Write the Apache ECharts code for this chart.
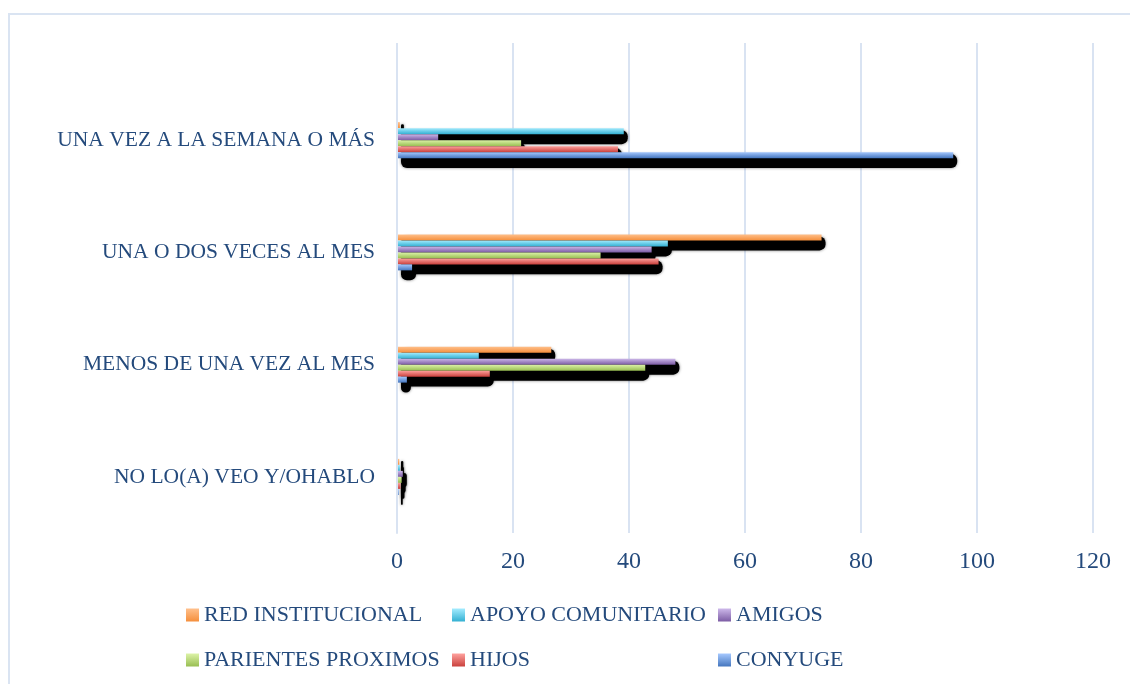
<!DOCTYPE html>
<html>
<head>
<meta charset="utf-8">
<script src="https://cdn.jsdelivr.net/npm/echarts@6/dist/echarts.min.js"></script>
<style>
  html, body { margin: 0; padding: 0; background: #ffffff; overflow: hidden; }
  #frame { position: absolute; left: 8px; top: 13px; width: 1400px; height: 900px;
           border-left: 2px solid #DAE4F2; border-top: 2px solid #DAE4F2; }
  #chart { position: absolute; left: 0; top: 0; width: 1130px; height: 684px; }
</style>
</head>
<body>
<div id="frame"></div>
<div id="chart"></div>
<script>
// Frequency categories, listed from the bottom of the axis upwards
const categories = [
  'NO LO(A) VEO Y/OHABLO',
  'MENOS DE UNA VEZ AL MES',
  'UNA O DOS VECES AL MES',
  'UNA VEZ A LA SEMANA O MÁS'
];

// Percentages per support network, same order as categories
const redInstitucional   = [0.4, 26.6, 73.2, 0.5];
const apoyoComunitario   = [0.5, 14.1, 46.7, 39.1];
const amigos             = [1.0, 48.0, 43.9, 7.1];
const parientesProximos  = [0.8, 42.8, 35.1, 21.4];
const hijos              = [0.6, 16.0, 45.1, 38.1];
const conyuge            = [0.3, 1.7, 2.6, 95.9];

const xTicks = { min: 0, max: 120, interval: 20 };

const seriesNames = ['RED INSTITUCIONAL', 'APOYO COMUNITARIO', 'AMIGOS',
                     'PARIENTES PROXIMOS', 'HIJOS', 'CONYUGE'];
const seriesValues = [redInstitucional, apoyoComunitario, amigos,
                      parientesProximos, hijos, conyuge];
// light top edge -> darker bottom edge for each bar fill
const seriesShades = [
  ['#FFC08C', '#F58F3C'],
  ['#A4ECFF', '#33B0D2'],
  ['#CDB8EA', '#7C5CA4'],
  ['#DDF3A8', '#98BE52'],
  ['#FFA29E', '#C9413D'],
  ['#A6C9FF', '#4576BE']
];

const textColor = '#244A7C';
const fontFamily = '"Liberation Serif", "DejaVu Serif", serif';
const gridColor = '#D9E3F2';

// plot area, bar thickness and the drop-shadow offset/size of the bars
const plot = { left: 397, right: 37, top: 84, bottom: 151 };
const barThickness = 6;
const dropThickness = 14;
const dropX = 4, dropY = 6;

function shade(pair) {
  return new echarts.graphic.LinearGradient(0, 0, 0, 1, [
    { offset: 0, color: pair[0] },
    { offset: 1, color: pair[1] }
  ]);
}

// coloured bars
const barSeries = seriesNames.map((name, i) => ({
  name: name,
  type: 'bar',
  xAxisIndex: 0,
  yAxisIndex: 0,
  barWidth: barThickness,
  barGap: '0%',
  z: 3,
  data: seriesValues[i],
  itemStyle: { color: shade(seriesShades[i]) },
  emphasis: { disabled: true },
  animation: false
}));

// black drop shadows: thicker than the bars but stepped by one bar
// thickness so each stays centred on its bar, in a grid shifted down-right
const dropGap = ((barThickness / dropThickness - 1) * 100).toFixed(3) + '%';
const dropSeries = seriesNames.map((name, i) => ({
  name: name + ' (sombra)',
  type: 'bar',
  xAxisIndex: 2,
  yAxisIndex: 2,
  barWidth: dropThickness,
  barGap: dropGap,
  z: 1,
  silent: true,
  data: seriesValues[i],
  itemStyle: {
    color: '#000000',
    borderRadius: 6,
    shadowColor: 'rgba(0,0,0,0.55)',
    shadowBlur: 3
  },
  emphasis: { disabled: true },
  animation: false
}));

const legendBase = {
  orient: 'vertical',
  top: 598,
  icon: 'rect',
  itemWidth: 13,
  itemHeight: 13,
  itemGap: 21,
  selectedMode: false,
  textStyle: { color: textColor, fontFamily: fontFamily, fontSize: 22, lineHeight: 24 }
};

const valueAxis = { type: 'value', min: xTicks.min, max: xTicks.max, interval: xTicks.interval };

const chart = echarts.init(document.getElementById('chart'), null, { renderer: 'canvas' });
chart.setOption({
  backgroundColor: 'transparent',
  animation: false,
  grid: [
    { left: plot.left, right: plot.right, top: plot.top, bottom: plot.bottom },
    { left: plot.left, right: plot.right, top: 43, bottom: plot.bottom },
    { left: plot.left + dropX, right: plot.right - dropX,
      top: plot.top + dropY, bottom: plot.bottom - dropY }
  ],
  xAxis: [
    Object.assign({}, valueAxis, {
      gridIndex: 0,
      axisLine: { show: false }, axisTick: { show: false }, splitLine: { show: false },
      axisLabel: { color: textColor, fontFamily: fontFamily, fontSize: 24, margin: 17 }
    }),
    Object.assign({}, valueAxis, {
      gridIndex: 1,
      axisLine: { show: false }, axisTick: { show: false }, axisLabel: { show: false },
      splitLine: { show: true, lineStyle: { color: gridColor, width: 2 } }
    }),
    Object.assign({}, valueAxis, { gridIndex: 2, show: false, splitLine: { show: false } })
  ],
  yAxis: [
    {
      gridIndex: 0, type: 'category', data: categories, z: 4,
      axisLine: { show: true, lineStyle: { color: gridColor, width: 2 } },
      axisTick: { show: false },
      axisLabel: { color: textColor, fontFamily: fontFamily, fontSize: 21.5, margin: 22 }
    },
    { gridIndex: 1, type: 'value', min: 0, max: 1, show: false, splitLine: { show: false } },
    { gridIndex: 2, type: 'category', data: categories, show: false }
  ],
  legend: [
    Object.assign({}, legendBase, { left: 181, data: ['RED INSTITUCIONAL', 'PARIENTES PROXIMOS'] }),
    Object.assign({}, legendBase, { left: 447, data: ['APOYO COMUNITARIO', 'HIJOS'] }),
    Object.assign({}, legendBase, { left: 713, data: ['AMIGOS', 'CONYUGE'] })
  ],
  series: dropSeries.concat(barSeries)
});
</script>
</body>
</html>
